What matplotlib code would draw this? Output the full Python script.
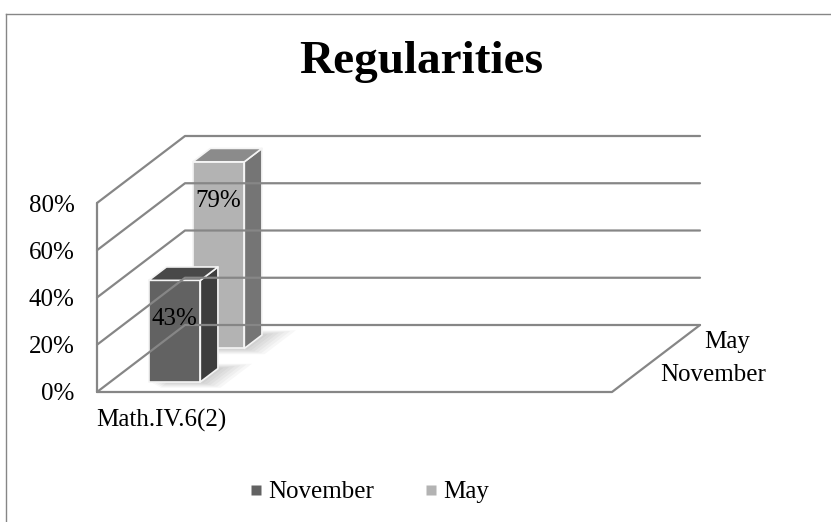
import matplotlib.pyplot as plt
from matplotlib.patches import Polygon
from matplotlib.lines import Line2D

plt.rcParams['font.family'] = ['Liberation Serif', 'DejaVu Serif']

# chart data
categories = ["Math.IV.6(2)"]
series_names = ["November", "May"]
november = [43]
may = [79]
yticks = [0, 20, 40, 60, 80]

n_slots = 4          # category slots along the floor
front_cols = ["#626262", "#b3b3b3"]
side_cols = ["#3d3d3d", "#757575"]
top_cols = ["#484848", "#8b8b8b"]
grid_col = "#868686"
fs = 18

W, H = 831, 522
fig = plt.figure(figsize=(W / 100, H / 100), dpi=100)
ax = fig.add_axes([97 / W, 130 / H, 515 / W, 189 / H])
ax.set_xlim(0, n_slots)
ax.set_ylim(0, 80)

# oblique offsets for one unit of depth, in data units
DX = 88 / 515 * n_slots
DY = 67 / 189 * 80


def proj(x, y, d):
    return (x + d * DX, y + d * DY)


def line(pts, **kw):
    xs, ys = zip(*pts)
    ax.add_line(Line2D(xs, ys, color=grid_col, lw=1.6, clip_on=False,
                       solid_capstyle='round', **kw))


# walls and floor
for v in yticks:
    line([proj(0, v, 0), proj(0, v, 1), proj(n_slots, v, 1)])
line([proj(0, 0, 0), proj(0, 80, 0)])
line([proj(0, 0, 0), proj(n_slots, 0, 0), proj(n_slots, 0, 1)])

gap = 1.5
bw = 1 / (1 + gap)
bd = 0.5 / (1 + gap)


def bar(ci, si, h):
    x0 = ci + (1 - bw) / 2
    x1 = x0 + bw
    d0 = si * 0.5 + (0.5 - bd) / 2
    d1 = d0 + bd
    # soft shadow on the floor
    for k in range(6):
        s = 0.012 * (k + 1)
        sh = [proj(x0 + s * 2, 0, d0 - s * 1.2), proj(x1 + s * 3, 0, d0 - s * 1.2),
              proj(x1 + s * 3, 0, d1 + s), proj(x0 + s * 2, 0, d1 + s)]
        ax.add_patch(Polygon(sh, closed=True, fc="#000000", ec="none",
                             alpha=0.03, clip_on=False))
    faces = [
        ([proj(x0, 0, d0), proj(x1, 0, d0), proj(x1, h, d0), proj(x0, h, d0)], front_cols[si]),
        ([proj(x1, 0, d0), proj(x1, 0, d1), proj(x1, h, d1), proj(x1, h, d0)], side_cols[si]),
        ([proj(x0, h, d0), proj(x1, h, d0), proj(x1, h, d1), proj(x0, h, d1)], top_cols[si]),
    ]
    for pts, c in faces:
        ax.add_patch(Polygon(pts, closed=True, fc=c, ec="#f4f4f4", lw=1.2,
                             joinstyle='round', clip_on=False))
    ax.annotate(f"{h}%", xy=proj((x0 + x1) / 2, h, d0), xytext=(0, -28),
                textcoords='offset points', ha='center', va='center',
                fontsize=fs, color='black', annotation_clip=False)


# back series first, then the front one
for ci in range(len(categories)):
    bar(ci, 1, may[ci])
    bar(ci, 0, november[ci])

# series names along the right edge of the floor
for si, name in enumerate(series_names):
    ax.annotate(name, xy=proj(n_slots, 0, si * 0.5 + 0.25), xytext=(19, 0),
                textcoords='offset points', ha='left', va='center',
                fontsize=fs, annotation_clip=False)

ax.set_yticks(yticks)
ax.set_yticklabels([f"{v}%" for v in yticks])
ax.set_xticks([c + 0.5 for c in range(len(categories))])
ax.set_xticklabels(categories)
ax.tick_params(axis='y', length=0, pad=16, labelsize=fs)
ax.tick_params(axis='x', length=0, pad=12, labelsize=fs)
for sp in ax.spines.values():
    sp.set_visible(False)
ax.patch.set_visible(False)

# outer chart border
fig.add_artist(Line2D([5.5 / W, 5.5 / W], [0, 1 - 13.5 / H], color=grid_col, lw=1,
                      transform=fig.transFigure))
fig.add_artist(Line2D([5.5 / W, 1], [1 - 13.5 / H, 1 - 13.5 / H], color=grid_col, lw=1,
                      transform=fig.transFigure))

fig.text(421 / W, 1 - 62 / H, "Regularities", ha='center', va='center',
         fontsize=34, fontweight='bold')

handles = [Line2D([], [], marker='s', ls='none', mfc=front_cols[i], mec='none',
                  markersize=7) for i in range(2)]
fig.legend(handles, series_names, loc='center', bbox_to_anchor=(369 / W, 1 - 492 / H),
           ncol=2, frameon=False, fontsize=fs, handlelength=0.55, handletextpad=0.2,
           columnspacing=2.0)

fig.savefig("out.png", dpi=100)
